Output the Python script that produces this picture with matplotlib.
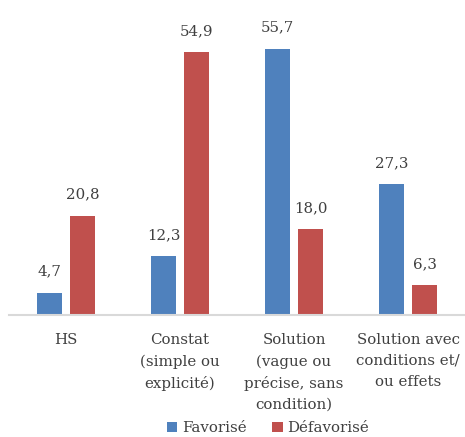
import numpy as np
import matplotlib.pyplot as plt

# -----------------------------
# Data
# -----------------------------
categories = ['HS', 'Constat\n(simple ou\nexplicité)',
              'Solution\n(vague ou\nprécise, sans\ncondition)',
              'Solution avec\nconditions et/\nou effets']
favorise = [4.7, 12.3, 55.7, 27.3]
defavorise = [20.8, 54.9, 18.0, 6.3]
series_names = ['Favorisé', 'Défavorisé']

blue = '#4F81BD'
red = '#C0504D'
text_col = '#404040'

plt.rcParams['font.family'] = ['DejaVu Serif']

fig = plt.figure(figsize=(4.65, 4.37), dpi=100)
ax = fig.add_axes([9 / 465, 122 / 437, 456 / 465, 287 / 437])

x = np.arange(len(categories))
w = 0.22
off = 0.145
b1 = ax.bar(x - off, favorise, w, color=blue, label=series_names[0])
b2 = ax.bar(x + off, defavorise, w, color=red, label=series_names[1])

# value labels with a comma as decimal separator
for bars, vals in [(b1, favorise), (b2, defavorise)]:
    ax.bar_label(bars, labels=[f'{v:.1f}'.replace('.', ',') for v in vals],
                 padding=10, fontsize=10.8, color=text_col)

ax.set_xlim(-0.5, len(categories) - 0.5)
ax.set_ylim(0, 60)
ax.set_xticks(x)
ax.set_xticklabels(categories, fontsize=10.8, color=text_col, linespacing=1.62,
                   va='top')
ax.tick_params(axis='x', length=0, pad=13)
ax.set_yticks([])

for s in ['top', 'right', 'left']:
    ax.spines[s].set_visible(False)
ax.spines['bottom'].set_color('#D9D9D9')
ax.spines['bottom'].set_linewidth(1.5)

fig.legend(loc='lower center', bbox_to_anchor=(0.576, -0.027), ncol=2,
           frameon=False, fontsize=10.8, labelcolor=text_col,
           handlelength=0.7, handleheight=0.7, handletextpad=0.3,
           columnspacing=1.7)

fig.savefig('out.png', dpi=100)
